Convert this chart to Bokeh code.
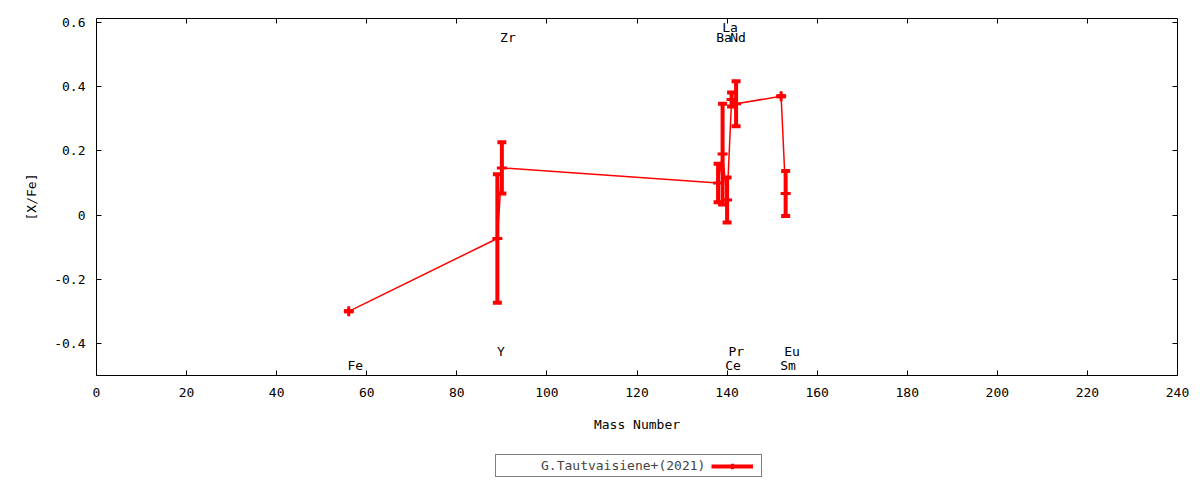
from bokeh.plotting import figure
from bokeh.layouts import column
from bokeh.models import (LinearAxis, FixedTicker, CustomJSTickFormatter, Legend, LegendItem,
                          ColumnDataSource, Range1d)
from bokeh.core.properties import value
from bokeh.embed import file_html
from bokeh.resources import INLINE

# ---- data ----
mass = [56, 89, 90, 138, 139, 140, 141, 142, 152, 153]
xfe = [-0.30, -0.073, 0.147, 0.10, 0.19, 0.047, 0.36, 0.347, 0.37, 0.067]
err = [0.0, 0.20, 0.08, 0.06, 0.157, 0.07, 0.022, 0.07, 0.0, 0.07]

elem_names = ["Fe", "Y", "Zr", "Ba", "La", "Nd", "Ce", "Pr", "Sm", "Eu"]
elem_x = [55.7, 88.9, 89.6, 137.6, 138.9, 140.7, 139.6, 140.3, 151.8, 152.7]
elem_y = [-0.468, -0.425, 0.553, 0.553, 0.584, 0.553, -0.468, -0.425, -0.468, -0.425]

x_ticks = list(range(0, 241, 20))
y_ticks = [-0.4, -0.2, 0.0, 0.2, 0.4, 0.6]
series_label = "G.Tautvaisiene+(2021)"

FONT = "DejaVu Sans Mono"
FS = "13px"
RED = "#ff0000"

lo = [v - e for v, e in zip(xfe, err)]
hi = [v + e for v, e in zip(xfe, err)]
src = ColumnDataSource(dict(x=mass, y=xfe, lo=lo, hi=hi))
lab = ColumnDataSource(dict(x=elem_x, y=elem_y, t=elem_names))

p = figure(width=1192, height=435, output_backend="svg", toolbar_location=None,
           x_range=Range1d(0, 240), y_range=Range1d(-0.5, 0.6125),
           min_border_left=96, min_border_right=15, min_border_top=18, min_border_bottom=60)
p.xaxis.visible = False
p.yaxis.visible = False
p.grid.visible = False
p.outline_line_color = "black"
p.outline_line_width = 1
p.background_fill_color = "white"
p.border_fill_color = "white"

yfmt = CustomJSTickFormatter(code="return Math.abs(tick) < 1e-9 ? '0' : tick.toFixed(1);")
blank = CustomJSTickFormatter(code="return '';")

def style_axis(ax):
    ax.axis_line_color = None
    ax.major_tick_in = 5
    ax.major_tick_out = 0
    ax.minor_tick_line_color = None
    ax.major_tick_line_color = "black"
    ax.major_label_text_font = FONT
    ax.major_label_text_font_size = FS
    ax.major_label_text_color = "black"
    ax.axis_label_text_font = FONT
    ax.axis_label_text_font_size = FS
    ax.axis_label_text_font_style = "normal"
    ax.axis_label_text_color = "black"

xb = LinearAxis(ticker=FixedTicker(ticks=x_ticks), axis_label="Mass Number")
style_axis(xb)
xb.major_label_standoff = 12
xb.axis_label_standoff = 17
p.add_layout(xb, "below")

xa = LinearAxis(ticker=FixedTicker(ticks=x_ticks), formatter=blank)
style_axis(xa)
xa.major_label_standoff = 0
p.add_layout(xa, "above")

yl = LinearAxis(ticker=FixedTicker(ticks=y_ticks), formatter=yfmt, axis_label="[X/Fe]")
style_axis(yl)
yl.major_label_standoff = 11
yl.axis_label_standoff = 12
p.add_layout(yl, "left")

yr = LinearAxis(ticker=FixedTicker(ticks=y_ticks), formatter=blank)
style_axis(yr)
yr.major_label_standoff = 0
p.add_layout(yr, "right")

# connecting line
p.line("x", "y", source=src, line_color=RED, line_width=1.5)
# error bars with caps and point markers
p.segment(x0="x", y0="lo", x1="x", y1="hi", source=src, line_color=RED, line_width=4)
p.scatter("x", "lo", source=src, marker="dash", size=9, line_color=RED, line_width=4)
p.scatter("x", "hi", source=src, marker="dash", size=9, line_color=RED, line_width=4)
p.scatter("x", "y", source=src, marker="cross", size=10, line_color=RED, line_width=3)

# element labels
p.text("x", "y", text="t", source=lab, text_font=value(FONT), text_font_size=FS,
       text_align="left", text_baseline="middle", text_color="black")

# ---- legend strip below the plot (label first, then the sample) ----
lf = figure(width=1192, height=45, output_backend="svg", toolbar_location=None,
            min_border_left=0, min_border_right=0, min_border_top=0, min_border_bottom=0)
lf.xaxis.visible = False
lf.yaxis.visible = False
lf.grid.visible = False
lf.outline_line_color = None
lf.background_fill_color = "white"
lf.border_fill_color = "white"
lnone = lf.scatter("x", "y", source=src, marker="circle", size=1, line_alpha=0, fill_alpha=0,
                   visible=False)
lseg = lf.segment(x0="x", y0="lo", x1="x", y1="hi", source=src, line_color=RED, line_width=4,
                  visible=False)
lpts = lf.scatter("x", "y", source=src, marker="cross", size=10, line_color=RED, line_width=3,
                  visible=False)
leg = Legend(items=[LegendItem(label=series_label, renderers=[lnone]),
                    LegendItem(label=" ", renderers=[lseg, lpts])],
             location=(399, 3), orientation="horizontal",
             border_line_color="black", border_line_width=1,
             background_fill_color="white", background_fill_alpha=1.0,
             inactive_fill_alpha=0.0,
             label_text_font=FONT, label_text_font_size=FS,
             glyph_width=42, glyph_height=14, padding=3, spacing=6,
             label_standoff=0, margin=0, label_height=14, label_width=5)
lf.add_layout(leg, "center")

open("out.html", "w").write(file_html(column(p, lf, spacing=0), INLINE))
